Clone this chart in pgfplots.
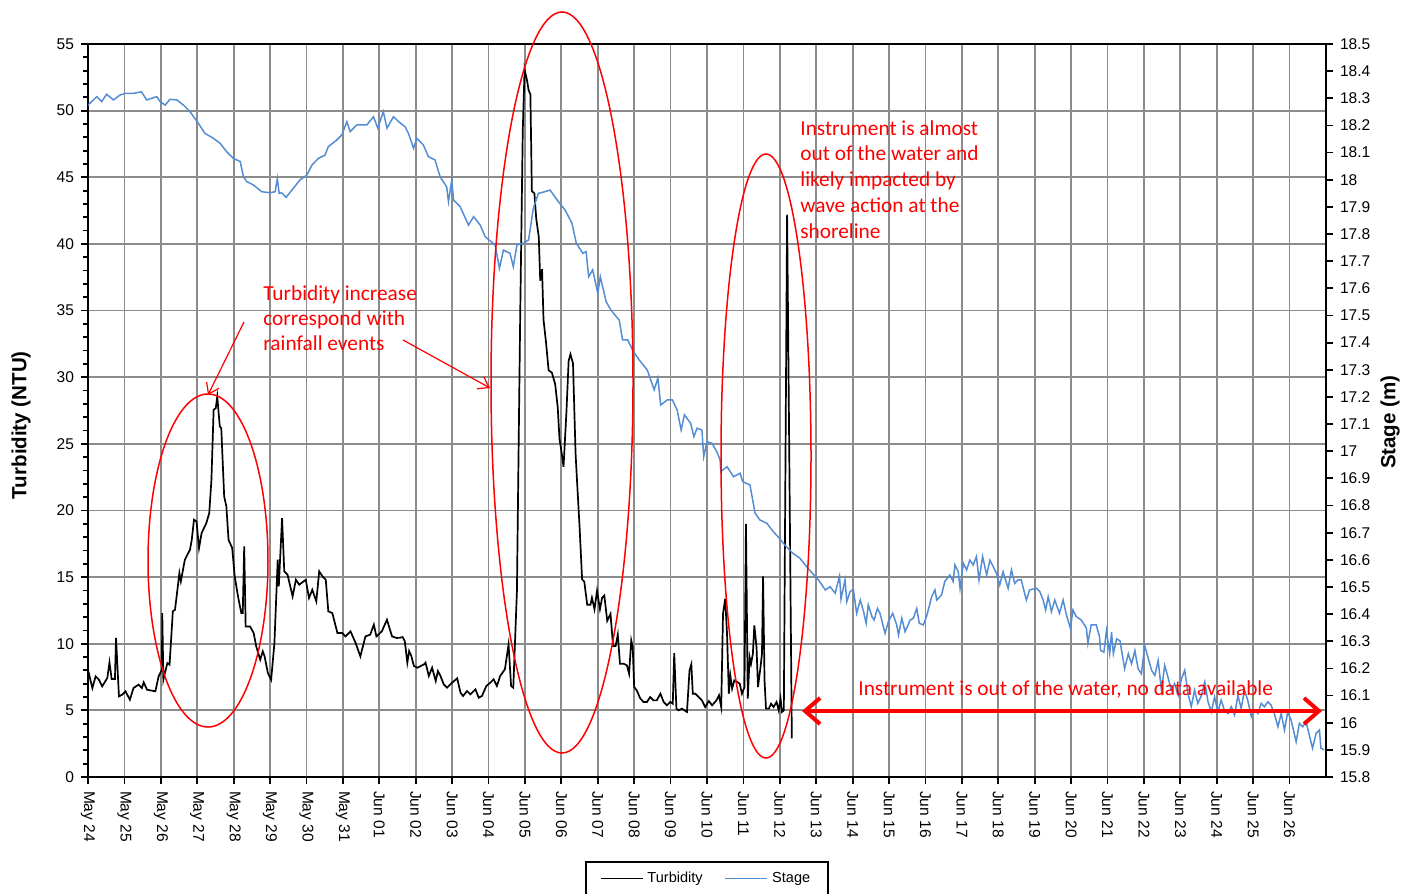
\documentclass[border=0pt]{standalone}
\usepackage{fontspec}
\setmainfont{Liberation Sans}
\newfontfamily\calibri{Carlito}
\usepackage{pgfplots}
\pgfplotsset{compat=1.18}
\usetikzlibrary{arrows.meta}
\definecolor{stageblue}{RGB}{84,141,212}
\definecolor{gridgray}{RGB}{140,140,140}
\definecolor{annred}{RGB}{255,0,0}
\begin{document}
\begin{tikzpicture}
\begin{axis}[
  scale only axis, width=619bp, height=366.5bp,
  xmin=0, xmax=34, ymin=0, ymax=55,
  xtick={0,1,...,33},
  xticklabels={May 24,May 25,May 26,May 27,May 28,May 29,May 30,May 31,Jun 01,Jun 02,Jun 03,Jun 04,Jun 05,Jun 06,Jun 07,Jun 08,Jun 09,Jun 10,Jun 11,Jun 12,Jun 13,Jun 14,Jun 15,Jun 16,Jun 17,Jun 18,Jun 19,Jun 20,Jun 21,Jun 22,Jun 23,Jun 24,Jun 25,Jun 26},
  xtick pos=left, ytick pos=left,
  ytick={0,5,...,55}, minor y tick num=4,
  tick align=outside,
  major tick length=3.5bp, minor tick length=2.5bp,
  tick style={black, line width=0.9bp},
  axis line style={black, line width=1.1bp},
  grid=major,
  major grid style={gridgray, line width=0.9bp},
  tick label style={font=\fontsize{7.8}{9}\selectfont},
  xticklabel style={rotate=-90, anchor=west},
  /pgf/number format/assume math mode=true,
  ylabel={Turbidity (NTU)},
  every axis y label/.style={at={(axis description cs:-0.0541,0.48)}, rotate=90, anchor=center, font=\fontsize{10.3}{12}\selectfont\bfseries},
  legend style={at={(0.5,-0.1145)}, anchor=north, legend columns=2, draw=black, line width=0.8bp,
    font=\fontsize{7.3}{9}\selectfont, inner xsep=7bp, inner ysep=3bp,
    /tikz/every even column/.append style={column sep=9bp}},
  legend image code/.code={\draw[#1] (0bp,0bp) -- (21bp,0bp);},
]
\addplot[black, line width=0.85bp] coordinates {
(0.00,8.05) (0.12,6.67) (0.21,7.55) (0.30,7.30) (0.39,6.80) (0.53,7.43) (0.59,8.60) (0.65,7.35)
(0.74,7.35) (0.77,10.43) (0.85,6.05) (0.94,6.18) (1.03,6.43) (1.15,5.80) (1.25,6.68) (1.39,6.93)
(1.48,6.68) (1.53,7.10) (1.62,6.55) (1.85,6.43) (1.94,7.55) (2.03,8.05) (2.04,12.30) (2.07,7.30)
(2.18,8.55) (2.24,8.43) (2.33,12.43) (2.39,12.55) (2.51,15.30) (2.55,14.68) (2.66,16.30) (2.80,17.05)
(2.85,17.80) (2.91,19.30) (2.98,19.18) (3.05,17.18) (3.12,18.30) (3.25,19.05) (3.33,19.80) (3.39,22.30)
(3.45,27.55) (3.51,27.68) (3.55,28.55) (3.62,26.30) (3.66,26.18) (3.74,21.05) (3.80,20.30) (3.86,17.80)
(3.96,17.18) (4.03,15.05) (4.12,13.55) (4.21,12.30) (4.25,12.30) (4.29,17.30) (4.33,11.30) (4.45,11.30)
(4.55,10.80) (4.62,9.80) (4.73,8.80) (4.80,9.43) (4.85,9.05) (4.94,7.80) (5.03,7.30) (5.12,10.05)
(5.21,16.30) (5.24,14.30) (5.33,19.43) (5.39,15.43) (5.48,15.18) (5.62,13.55) (5.71,14.80) (5.80,14.43)
(5.98,14.80) (6.07,13.43) (6.16,14.05) (6.27,13.18) (6.35,15.43) (6.44,15.05) (6.53,14.80) (6.60,12.43)
(6.71,12.30) (6.85,10.80) (6.98,10.80) (7.07,10.55) (7.21,10.93) (7.35,10.05) (7.48,9.05) (7.62,10.55)
(7.75,10.68) (7.85,11.43) (7.92,10.55) (8.07,10.93) (8.21,11.80) (8.35,10.55) (8.48,10.43)
(8.57,10.45) (8.64,10.50) (8.70,10.20) (8.77,8.58) (8.82,9.45) (8.88,9.08) (8.95,8.33) (9.05,8.20)
(9.14,8.33) (9.23,8.45) (9.27,8.58) (9.36,7.58) (9.45,8.20) (9.55,7.20) (9.61,7.95) (9.68,7.58)
(9.77,6.95) (9.86,6.70) (10.00,7.08) (10.14,7.40) (10.23,6.33) (10.30,6.08) (10.41,6.45) (10.50,6.20)
(10.64,6.58) (10.73,5.95) (10.82,6.08) (10.94,6.83) (11.05,7.08) (11.14,7.33) (11.23,6.83) (11.32,7.58)
(11.45,8.08) (11.55,9.95) (11.62,6.83) (11.68,6.70)
(11.78,13.97) (11.87,34.66) (11.94,48.45) (11.99,53.10) (12.06,52.24) (12.10,51.55) (12.15,51.21) (12.19,43.97)
(12.26,43.79) (12.31,41.90) (12.38,40.52) (12.42,37.24) (12.47,38.10) (12.51,34.31) (12.58,32.59) (12.65,30.52)
(12.74,30.34) (12.83,29.48) (12.90,27.76) (12.95,25.34) (12.99,24.66) (13.06,23.28) (13.14,27.41) (13.20,31.21)
(13.25,31.72) (13.32,31.03) (13.39,24.31) (13.43,22.24) (13.50,18.79) (13.57,14.83) (13.63,14.66) (13.71,12.93)
(13.80,12.93) (13.84,13.45) (13.91,12.59) (13.98,13.97) (14.06,12.59) (14.12,13.45) (14.18,13.62) (14.26,11.72)
(14.35,12.24) (14.42,9.83) (14.49,9.83) (14.55,10.69)
(14.61,8.50) (14.71,8.50) (14.80,8.38) (14.86,7.75) (14.92,10.25) (14.96,9.75) (15.00,6.75) (15.07,6.50)
(15.17,5.88) (15.26,5.63) (15.35,5.63) (15.44,6.00) (15.53,5.75) (15.62,5.75) (15.72,6.25) (15.81,5.63)
(15.90,5.38) (15.99,5.63) (16.06,5.50) (16.10,9.30) (16.16,5.13) (16.22,5.00) (16.31,5.13) (16.45,4.88)
(16.52,8.00) (16.57,8.45) (16.61,6.25) (16.68,6.25) (16.77,6.00) (16.86,5.75) (16.95,5.25) (17.05,5.70)
(17.14,5.38) (17.26,5.75) (17.33,6.13) (17.39,5.25) (17.44,12.25) (17.50,13.38) (17.55,10.75) (17.60,6.25)
(17.64,7.63) (17.69,6.63) (17.75,7.25) (17.83,7.13) (17.90,7.00) (17.96,6.25) (18.03,6.75) (18.07,19.00)
(18.12,5.88) (18.17,9.00) (18.21,8.50) (18.26,9.25) (18.30,11.38) (18.36,9.75) (18.40,6.75) (18.47,8.25)
(18.51,9.25) (18.54,15.05) (18.58,7.25) (18.62,5.13) (18.70,5.13) (18.76,5.50) (18.83,5.25) (18.91,5.63)
(18.97,5.00) (19.02,5.88) (19.06,4.88) (19.11,5.00) (19.20,42.2) (19.33,2.9)
};
\addlegendentry{Turbidity}
\addlegendimage{stageblue, line width=0.75bp}
\addlegendentry{Stage}
\end{axis}
\begin{axis}[
  scale only axis, width=619bp, height=366.5bp,
  xmin=0, xmax=34, ymin=15.8, ymax=18.5,
  axis x line=none, axis y line*=right,
  ytick={15.8,15.9,16,16.1,16.2,16.3,16.4,16.5,16.6,16.7,16.8,16.9,17,17.1,17.2,17.3,17.4,17.5,17.6,17.7,17.8,17.9,18,18.1,18.2,18.3,18.4,18.5},
  tick align=outside, major tick length=3.5bp,
  tick style={black, line width=0.9bp},
  axis line style={black, line width=1.1bp},
  tick label style={font=\fontsize{7.8}{9}\selectfont},
  /pgf/number format/assume math mode=true,
  ylabel={Stage (m)},
  every axis y label/.style={at={(axis description cs:1.0517,0.484)}, rotate=90, anchor=center, font=\fontsize{10.3}{12}\selectfont\bfseries},
]
\addplot[stageblue, line width=0.75bp] coordinates {
(0.00,18.275) (0.15,18.294) (0.24,18.306) (0.38,18.288) (0.51,18.315) (0.70,18.294) (0.88,18.312) (1.02,18.318)
(1.24,18.318) (1.47,18.324) (1.61,18.294) (1.89,18.306) (1.98,18.288) (2.12,18.275) (2.25,18.296) (2.44,18.294)
(2.62,18.275) (2.80,18.251) (3.03,18.208) (3.21,18.171) (3.44,18.153) (3.63,18.134) (3.81,18.103) (3.99,18.079)
(4.18,18.067) (4.27,18.011) (4.36,17.993) (4.54,17.981) (4.77,17.956) (5.00,17.952) (5.14,17.956) (5.20,18.005)
(5.25,17.950) (5.32,17.952) (5.44,17.935) (5.60,17.962) (5.82,17.999) (6.01,18.017) (6.15,18.054) (6.33,18.079)
(6.51,18.091) (6.60,18.122) (6.83,18.146) (6.97,18.165) (7.11,18.214) (7.20,18.177) (7.38,18.202) (7.66,18.202)
(7.84,18.232) (7.96,18.190) (8.11,18.251) (8.21,18.190) (8.39,18.232) (8.53,18.214) (8.71,18.195) (8.80,18.171)
(8.94,18.116) (9.03,18.153) (9.21,18.128) (9.35,18.085) (9.53,18.073) (9.67,18.011) (9.85,17.974) (9.90,17.919)
(9.99,17.999) (10.04,17.925) (10.22,17.901) (10.45,17.833) (10.59,17.864) (10.77,17.833) (10.91,17.790) (11.18,17.760)
(11.30,17.674) (11.41,17.741) (11.59,17.729) (11.68,17.680) (11.78,17.760) (11.96,17.766) (12.10,17.778) (12.23,17.895)
(12.37,17.950) (12.55,17.956) (12.69,17.962) (12.92,17.919) (13.10,17.889) (13.29,17.840)
(13.41,17.766) (13.59,17.729) (13.68,17.735) (13.75,17.643) (13.86,17.668) (14.00,17.582) (14.07,17.643) (14.23,17.551)
(14.36,17.520) (14.59,17.483) (14.68,17.410) (14.82,17.410) (14.98,17.367) (15.14,17.336) (15.36,17.299) (15.55,17.226)
(15.65,17.269) (15.73,17.170) (15.91,17.189) (16.05,17.189) (16.18,17.152) (16.29,17.078) (16.38,17.134) (16.55,17.103)
(16.64,17.054) (16.73,17.085) (16.86,17.078) (16.91,16.980) (17.00,17.035) (17.14,17.029) (17.27,16.998) (17.36,16.968)
(17.38,16.925) (17.55,16.943) (17.73,16.906) (17.91,16.919) (17.98,16.888) (18.18,16.876) (18.32,16.772) (18.45,16.747)
(18.64,16.735) (18.82,16.704) (18.95,16.685) (19.18,16.648) (19.36,16.624) (19.55,16.606) (19.77,16.569)
(20.06,16.526) (20.25,16.489) (20.38,16.501) (20.52,16.477) (20.64,16.540) (20.68,16.455) (20.79,16.526) (20.84,16.446)
(20.93,16.483) (21.02,16.491) (21.11,16.403) (21.21,16.452) (21.30,16.409) (21.37,16.366) (21.43,16.434) (21.53,16.391)
(21.59,16.378) (21.68,16.421) (21.75,16.403) (21.89,16.329) (21.98,16.372) (22.10,16.403) (22.21,16.360) (22.26,16.323)
(22.35,16.385) (22.44,16.335) (22.58,16.378) (22.67,16.385) (22.76,16.421) (22.83,16.366) (22.94,16.360) (23.03,16.391)
(23.17,16.464) (23.26,16.489) (23.31,16.452) (23.44,16.470) (23.53,16.520) (23.67,16.544) (23.76,16.520) (23.81,16.581)
(23.90,16.556) (23.95,16.495) (24.04,16.587) (24.13,16.563) (24.22,16.599) (24.31,16.581) (24.40,16.612) (24.47,16.526)
(24.57,16.612) (24.68,16.544) (24.77,16.599) (24.86,16.575) (24.95,16.550) (25.04,16.507) (25.13,16.556) (25.27,16.495)
(25.36,16.563) (25.45,16.513) (25.54,16.526) (25.63,16.526) (25.77,16.452) (25.86,16.489) (26.05,16.495) (26.14,16.483)
(26.23,16.452) (26.30,16.415) (26.37,16.464) (26.46,16.409) (26.55,16.452) (26.68,16.403) (26.78,16.452) (26.87,16.397)
(26.98,16.348) (27.05,16.415) (27.14,16.391) (27.28,16.378) (27.42,16.348) (27.46,16.292) (27.55,16.360) (27.69,16.360)
(27.78,16.317) (27.81,16.266) (27.90,16.260) (27.97,16.339) (28.06,16.254) (28.11,16.333) (28.16,16.254) (28.25,16.309)
(28.34,16.302) (28.47,16.199) (28.57,16.254) (28.66,16.217) (28.75,16.266) (28.84,16.199) (28.93,16.180) (29.02,16.284)
(29.11,16.241) (29.21,16.193) (29.30,16.174) (29.39,16.229) (29.48,16.120) (29.57,16.211) (29.66,16.168) (29.75,16.120)
(29.84,16.144) (29.94,16.101) (30.03,16.162) (30.12,16.193) (30.21,16.107) (30.30,16.059) (30.39,16.120) (30.48,16.071)
(30.58,16.101) (30.67,16.150) (30.76,16.077) (30.85,16.040) (30.94,16.095) (31.03,16.040) (31.12,16.083) (31.21,16.046)
(31.31,16.034) (31.40,16.059) (31.49,16.028) (31.58,16.101) (31.67,16.052) (31.76,16.120) (31.85,16.083) (31.95,16.022)
(32.04,16.046) (32.13,16.034) (32.22,16.071) (32.31,16.059) (32.40,16.077) (32.49,16.065) (32.58,16.034) (32.68,15.985)
(32.77,16.034) (32.86,15.973) (32.95,16.040) (33.04,16.010) (33.18,15.930) (33.27,15.998) (33.36,15.985) (33.45,16.004)
(33.54,15.955) (33.63,15.906) (33.73,15.961) (33.82,15.973) (33.86,15.906) (33.95,15.900)
};
\end{axis}
% annotations (1 px = 0.5 bp, origin at plot lower-left)
\begin{scope}[annred]
\draw[line width=0.75bp] (60bp,108.25bp) ellipse [x radius=30bp, y radius=83.25bp];
\draw[line width=0.75bp] (237bp,197.25bp) ellipse [x radius=35.5bp, y radius=185.25bp];
\draw[line width=0.75bp] (339bp,160.5bp) ellipse [x radius=22.5bp, y radius=151bp];
\draw[line width=0.6bp, -{Straight Barb[length=5bp,width=7bp]}] (78bp,227.5bp) -- (60bp,191bp);
\draw[line width=0.6bp, -{Straight Barb[length=5bp,width=7bp]}] (157.5bp,218.5bp) -- (201bp,194.5bp);
\draw[line width=2bp, {Straight Barb[length=7.5bp,width=13bp]}-{Straight Barb[length=7.5bp,width=13bp]}] (357bp,33bp) -- (617bp,33bp);
\begin{scope}[every node/.style={anchor=base west, inner sep=0pt, font=\calibri\fontsize{10.7}{12.7}\selectfont, text=annred}]
\node at (87.5bp,238bp) {Turbidity increase};
\node at (87.5bp,225.5bp) {correspond with};
\node at (87.5bp,213bp) {rainfall events};
\node at (356bp,320.5bp) {Instrument is almost};
\node at (356bp,308bp) {out of the water and};
\node at (356bp,295bp) {likely impacted by};
\node at (356bp,282bp) {wave action at the};
\node at (356bp,269bp) {shoreline};
\node at (385bp,40.5bp) {Instrument is out of the water, no data available};
\end{scope}
\end{scope}
\pgfresetboundingbox
\path[use as bounding box] (-44bp,-58.5bp) rectangle (662.5bp,388.5bp);
\end{tikzpicture}
\end{document}
